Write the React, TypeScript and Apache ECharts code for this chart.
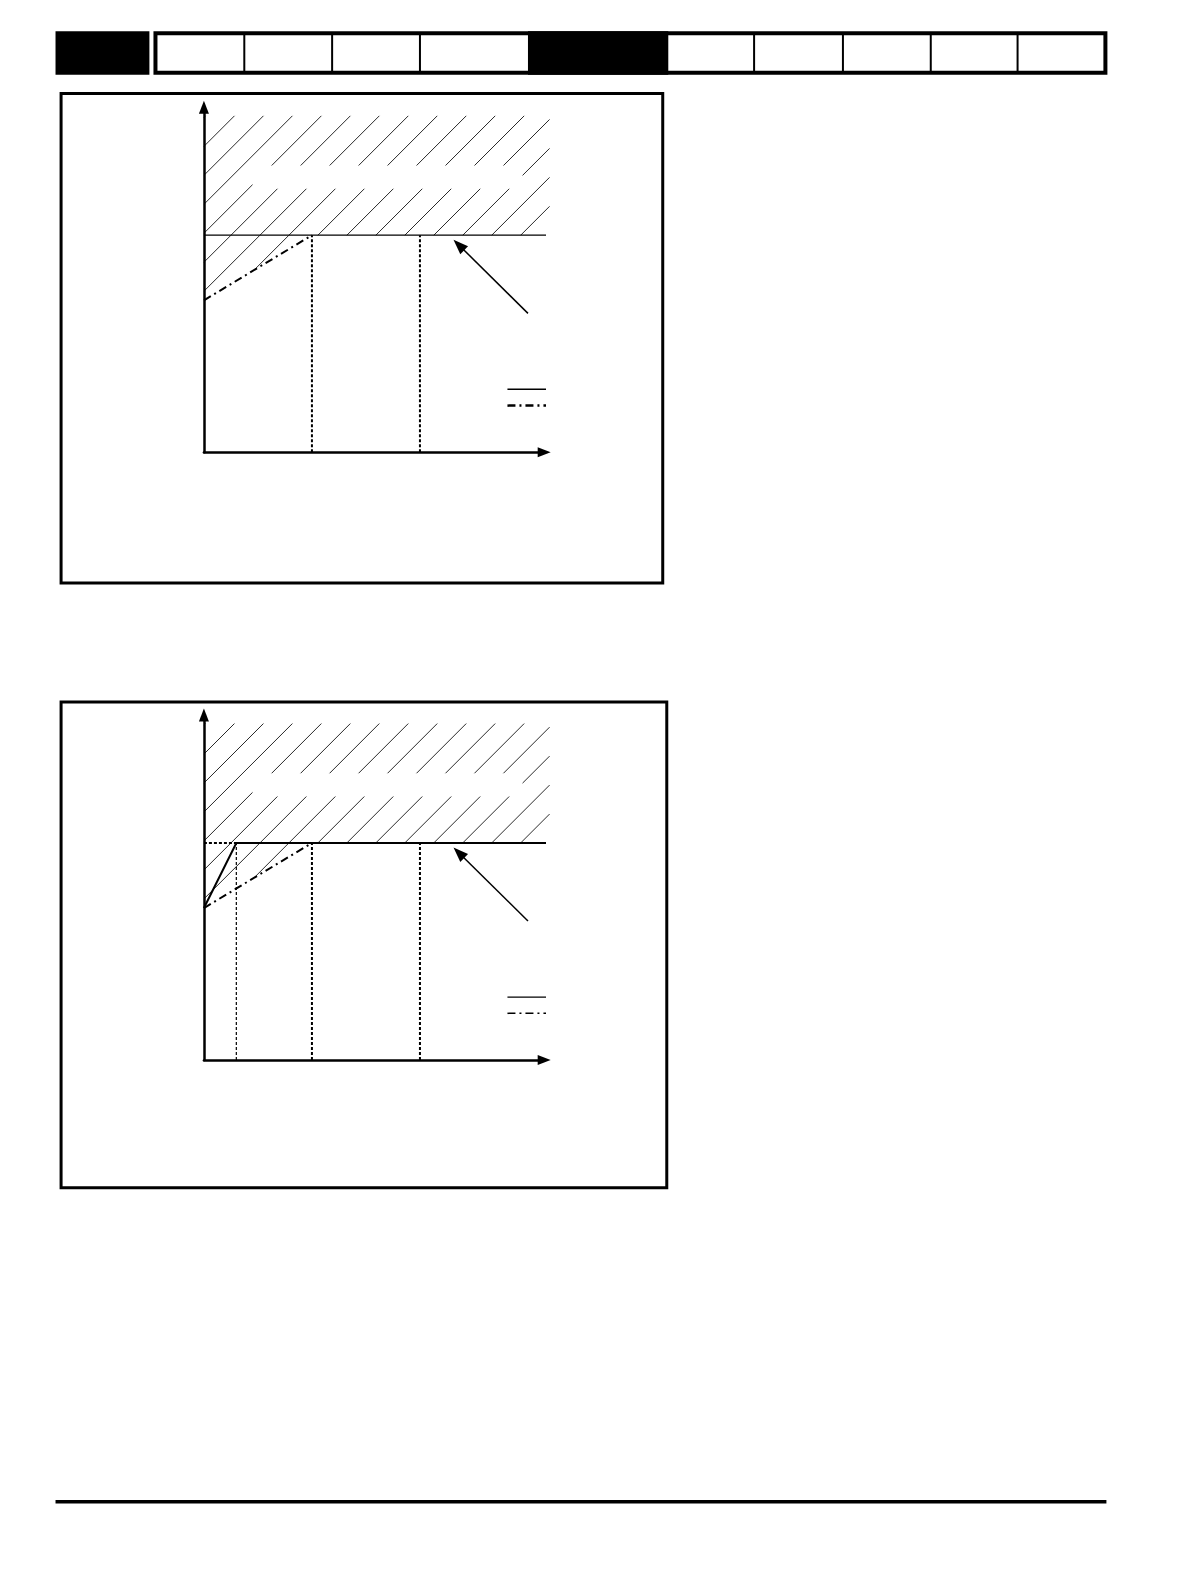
import React, { useEffect, useRef } from 'react';
import * as echarts from 'echarts';

// diagram values: x in base-speed units, y in per-unit level
const xMax = 3.15;
const yMax = 1.59;
const hatchUpper = [[0, 1], [3.2, 1], [3.2, 1.55], [0, 1.55]];
const hatchLower = [[0, 0.7], [1, 1], [0, 1]];
const hatchGap = [[0.45, 1.214], [2.95, 1.321]];
const levelLine1 = [[0, 1], [3.2, 1]];
const dashDot1 = [[0, 0.7], [1, 1]];
const marks1 = [1, 2];
const solid2 = [[0, 0.7], [0.3, 1], [3.2, 1]];
const dotted2 = [[0, 1], [0.3, 1]];
const dashDot2 = [[0, 0.7], [1, 1]];
const marks2 = [1, 2];
const thinMarks2 = [0.3];
const arrowLine = [[3.0, 0.64], [2.36, 0.955]];
const legendSolid = [[2.81, 0.29], [3.22, 0.29]];
const legendDashDot = [[2.81, 0.215], [3.22, 0.215]];

// page layout (pixels, measured on the page then scaled by S)
const S = 1.0095;
const s = (v: number) => v * S;
const unitX = s(107);
const unitY = s(215);
const originX = s(202);
const originY = [s(448), s(1050)];
const hatchStep = s(28.7);
const hatchPhase = s(-303);
const headerDividers = [242, 329, 416, 747, 835, 922, 1008];

const DASH_DOT = [8, 4, 2, 4];
const DOTTED = [3, 2];

const hatchRender = (params: any, api: any) => {
  const o = api.coord([0, 0]);
  const base = o[0] + o[1] + hatchPhase;
  const children: any[] = [];
  [hatchUpper, hatchLower].forEach((piece) => {
    const pts = piece.map((p) => api.coord(p));
    const sums = pts.map((p: number[]) => p[0] + p[1]);
    const kFrom = Math.floor((Math.min(...sums) - base) / hatchStep);
    const kTo = Math.ceil((Math.max(...sums) - base) / hatchStep);
    for (let k = kFrom; k <= kTo; k++) {
      const c = base + k * hatchStep;
      const ts: number[] = [];
      for (let i = 0; i < pts.length; i++) {
        const a = pts[i];
        const b = pts[(i + 1) % pts.length];
        const fa = a[0] + a[1] - c;
        const fb = b[0] + b[1] - c;
        if (fa === fb) continue;
        if ((fa <= 0 && fb >= 0) || (fa >= 0 && fb <= 0)) {
          ts.push(a[0] + (b[0] - a[0]) * (fa / (fa - fb)));
        }
      }
      if (ts.length < 2) continue;
      const t1 = Math.min(...ts);
      const t2 = Math.max(...ts);
      if (t2 - t1 < 0.5) continue;
      children.push({
        type: 'line',
        shape: { x1: t1, y1: c - t1, x2: t2, y2: c - t2 },
        style: { stroke: '#2a2a2a', lineWidth: 1 }
      });
    }
  });
  // blank band where the hatching is interrupted
  const g0 = api.coord(hatchGap[0]);
  const g1 = api.coord(hatchGap[1]);
  children.push({
    type: 'rect',
    shape: { x: g0[0], y: g1[1], width: g1[0] - g0[0], height: g0[1] - g1[1] },
    style: { fill: '#fff' }
  });
  return { type: 'group', children };
};

const line = (gi: number, data: number[][], width: number, type: any, extra: any = {}) => ({
  type: 'line',
  xAxisIndex: gi,
  yAxisIndex: gi,
  data,
  symbol: 'none',
  showSymbol: false,
  clip: false,
  silent: true,
  z: 3,
  lineStyle: { color: '#000', width, type },
  ...extra
});

const arrowMark = {
  silent: true,
  symbol: ['none', 'triangle'],
  symbolSize: [11, 15],
  label: { show: false },
  lineStyle: { color: '#000', width: 1.5, type: 'solid' },
  data: [[{ coord: arrowLine[0] }, { coord: arrowLine[1] }]]
};

const App: React.FC = () => {
  const chartRef = useRef<HTMLDivElement>(null);

  useEffect(() => {
    if (!chartRef.current) return;
    const chart = echarts.init(chartRef.current, null, { renderer: 'svg' });

    const axisLine = {
      show: true,
      symbol: ['none', 'triangle'],
      symbolSize: [10, 13],
      lineStyle: { color: '#000', width: 2.5 }
    };
    const hidden = {
      axisTick: { show: false },
      axisLabel: { show: false },
      splitLine: { show: false },
      z: 10
    };

    const options: any = {
      animation: false,
      backgroundColor: '#fff',
      grid: originY.map((oy) => ({
        left: originX,
        top: oy - yMax * unitY,
        width: xMax * unitX,
        height: yMax * unitY
      })),
      xAxis: [0, 1].map((gi) => ({ type: 'value', gridIndex: gi, min: 0, max: xMax, axisLine, ...hidden })),
      yAxis: [0, 1].map((gi) => ({ type: 'value', gridIndex: gi, min: 0, max: yMax, axisLine, ...hidden })),
      series: [
        // chart 1
        { type: 'custom', xAxisIndex: 0, yAxisIndex: 0, data: [[0, 0]], renderItem: hatchRender, silent: true, clip: false, z: 1 },
        line(0, levelLine1, 1.2, 'solid'),
        line(0, dashDot1, 2, DASH_DOT),
        ...marks1.map((m) => line(0, [[m, 0], [m, 1]], 2, DOTTED)),
        line(0, legendSolid, 1.5, 'solid', { markLine: arrowMark }),
        line(0, legendDashDot, 2.5, DASH_DOT),
        // chart 2
        { type: 'custom', xAxisIndex: 1, yAxisIndex: 1, data: [[0, 0]], renderItem: hatchRender, silent: true, clip: false, z: 1 },
        line(1, dotted2, 2, DOTTED),
        line(1, solid2, 2, 'solid'),
        line(1, dashDot2, 2, DASH_DOT),
        ...marks2.map((m) => line(1, [[m, 0], [m, 1]], 2, DOTTED)),
        ...thinMarks2.map((m) => line(1, [[m, 0], [m, 1]], 1.2, [3, 2])),
        line(1, legendSolid, 1.2, 'solid', { markLine: arrowMark }),
        line(1, legendDashDot, 1.5, DASH_DOT)
      ],
      graphic: [
        // header strip
        { type: 'rect', shape: { x: s(55), y: s(31), width: s(93), height: s(43) }, style: { fill: '#000' } },
        { type: 'rect', shape: { x: s(154), y: s(33), width: s(941), height: s(39) }, style: { fill: '#fff', stroke: '#000', lineWidth: 4 } },
        { type: 'rect', shape: { x: s(523), y: s(31), width: s(139), height: s(43) }, style: { fill: '#000' } },
        ...headerDividers.map((x) => ({
          type: 'line',
          shape: { x1: s(x), y1: s(33), x2: s(x), y2: s(72) },
          style: { stroke: '#000', lineWidth: 2 }
        })),
        // figure frames
        { type: 'rect', shape: { x: s(60.5), y: s(92.5), width: s(596), height: s(485) }, style: { fill: 'none', stroke: '#000', lineWidth: 3 } },
        { type: 'rect', shape: { x: s(60.5), y: s(695.5), width: s(600), height: s(481) }, style: { fill: 'none', stroke: '#000', lineWidth: 3 } },
        // footer rule
        { type: 'rect', shape: { x: s(55), y: s(1486), width: s(1041), height: 3.5 }, style: { fill: '#000' } }
      ]
    };

    chart.setOption(options);

    return () => {
      chart.dispose();
    };
  }, []);

  return <div ref={chartRef} style={{ position: 'absolute', left: 0, top: 0, width: 1190, height: 1582 }} />;
};

export default App;
